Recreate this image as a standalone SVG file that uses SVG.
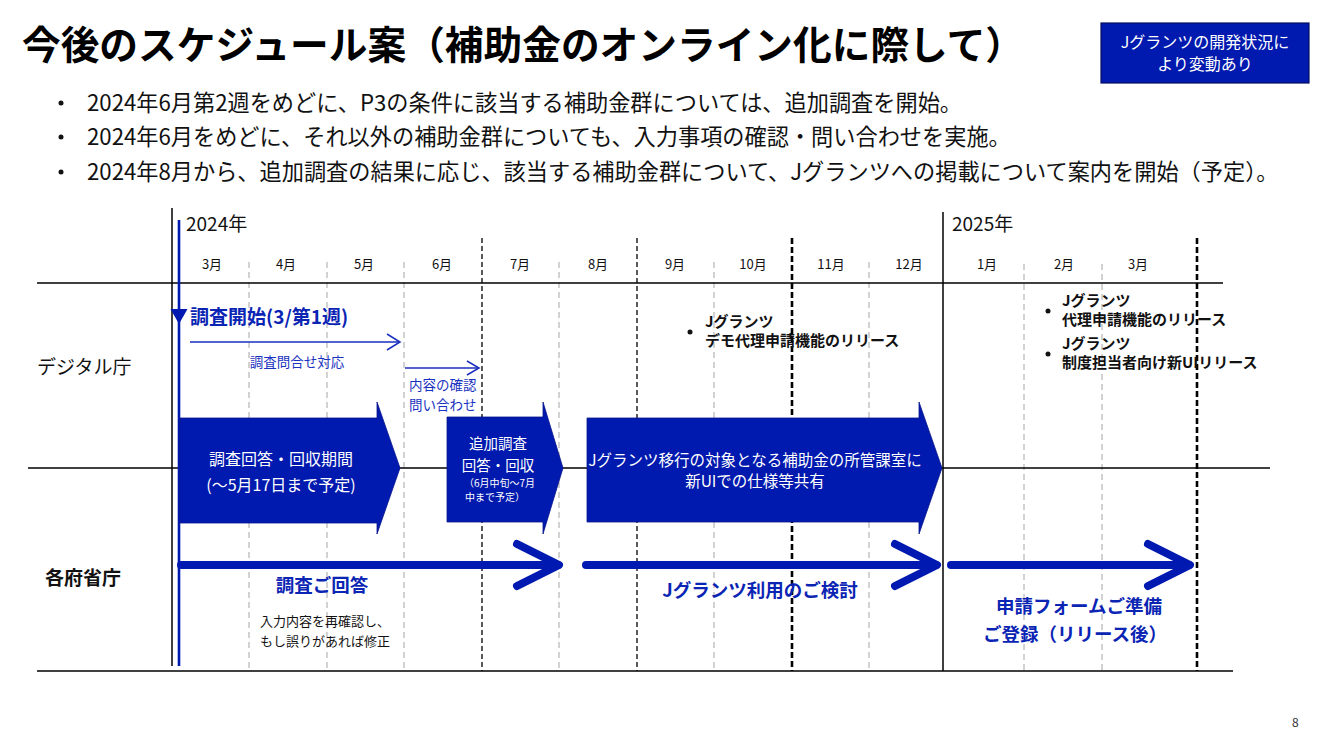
<svg xmlns="http://www.w3.org/2000/svg" width="1334" height="750" viewBox="0 0 1334 750">
<style>
text{font-family:"Noto Sans CJK JP","Noto Sans",sans-serif;}
.title{font-size:38.7px;font-weight:700;fill:#000;}
.bul{font-size:22.2px;fill:#111;}
.yr{font-size:19px;fill:#111;}
.mo{font-size:13px;fill:#111;text-anchor:middle;}
.row{font-size:19px;fill:#111;}
.wt{fill:#fff;text-anchor:middle;}
.bb{font-weight:700;fill:#0a24b4;}
.sb{font-size:13.5px;fill:#1a33bf;}
.blk{font-size:15px;font-weight:700;fill:#111;}
.gd{stroke:#c4c4c4;stroke-width:1.5;stroke-dasharray:6 4;fill:none;}
.kd{stroke:#000;stroke-width:1.3;stroke-dasharray:5 3;fill:none;}
.kt{stroke:#000;stroke-width:2.6;stroke-dasharray:6 3;fill:none;}
.ln{stroke:#000;stroke-width:1.5;fill:none;}
.blockarrow{fill:#0019ae;stroke:#07158a;stroke-width:0.8;}
.thin{stroke:#1a2fbd;stroke-width:1.5;fill:none;}
.thick{stroke:#0019b0;stroke-width:8;fill:none;stroke-linecap:round;stroke-linejoin:round;}
</style>

<g id="title">
<text class="title" x="22" y="59">今後のスケジュール案（補助金のオンライン化に際して）</text>
</g>

<g id="note-box">
<rect x="1101" y="23" width="208" height="60" fill="#0019ae" stroke="#06105e" stroke-width="1.2"/>
<text class="wt" x="1205" y="48" font-size="16">Jグランツの開発状況に</text>
<text class="wt" x="1205" y="70" font-size="16">より変動あり</text>
</g>

<g id="bullets">
<circle cx="61" cy="103" r="2.5" fill="#111"/>
<circle cx="61" cy="137" r="2.5" fill="#111"/>
<circle cx="61" cy="172" r="2.5" fill="#111"/>
<text class="bul" x="87" y="111">2024年6月第2週をめどに、P3の条件に該当する補助金群については、追加調査を開始。</text>
<text class="bul" x="87" y="145">2024年6月をめどに、それ以外の補助金群についても、入力事項の確認・問い合わせを実施。</text>
<text class="bul" x="87" y="180">2024年8月から、追加調査の結果に応じ、該当する補助金群について、Jグランツへの掲載について案内を開始（予定）。</text>
</g>

<g id="grid">
<line class="gd" x1="249" y1="262" x2="249" y2="671"/>
<line class="gd" x1="327" y1="262" x2="327" y2="671"/>
<line class="gd" x1="404" y1="262" x2="404" y2="671"/>
<line class="gd" x1="559" y1="262" x2="559" y2="671"/>
<line class="gd" x1="714" y1="262" x2="714" y2="671"/>
<line class="gd" x1="869" y1="262" x2="869" y2="671"/>
<line class="gd" x1="1024" y1="264" x2="1024" y2="671"/>
<line class="gd" x1="1102" y1="264" x2="1102" y2="671"/>
<line class="kd" x1="482" y1="238" x2="482" y2="671"/>
<line class="kd" x1="637" y1="238" x2="637" y2="671"/>
<line class="kt" x1="792" y1="238" x2="792" y2="671"/>
<line class="kt" x1="1197" y1="238" x2="1197" y2="671"/>
<line class="ln" x1="943" y1="212" x2="943" y2="671"/>
<line class="ln" x1="172" y1="208" x2="172" y2="666"/>
<line class="ln" x1="37" y1="283" x2="1223" y2="283"/>
<line class="ln" x1="28" y1="468" x2="1270" y2="468"/>
<line class="ln" x1="37" y1="671" x2="1233" y2="671"/>
</g>

<g id="timeline-labels">
<text class="yr" x="186" y="231">2024年</text>
<text class="yr" x="952" y="231">2025年</text>
<text class="mo" x="212" y="269">3月</text>
<text class="mo" x="286" y="269">4月</text>
<text class="mo" x="364" y="269">5月</text>
<text class="mo" x="442" y="269">6月</text>
<text class="mo" x="520" y="269">7月</text>
<text class="mo" x="598" y="269">8月</text>
<text class="mo" x="675" y="269">9月</text>
<text class="mo" x="753" y="269">10月</text>
<text class="mo" x="831" y="269">11月</text>
<text class="mo" x="909" y="269">12月</text>
<text class="mo" x="987" y="269">1月</text>
<text class="mo" x="1064" y="269">2月</text>
<text class="mo" x="1138" y="269">3月</text>
</g>

<g id="row-digital">
<text class="row" x="37" y="374">デジタル庁</text>
</g>
<g id="row-ministries">
<text class="row" x="45" y="585" font-weight="700" font-size="18.5">各府省庁</text>
</g>

<g id="survey-start">
<line x1="179" y1="220" x2="179" y2="666" stroke="#0019b0" stroke-width="2.6"/>
<polygon points="170.5,309 187.5,309 179,324" fill="#0019b0"/>
<text class="bb" x="190" y="324" font-size="19">調査開始(3/第1週)</text>
</g>

<g id="connectors">
<line class="thin" x1="190" y1="342" x2="400" y2="342"/>
<polyline class="thin" points="387,334 400,342 387,350"/>
<line class="thin" x1="405" y1="368" x2="479" y2="368"/>
<polyline class="thin" points="467,361 479,368 467,375"/>
<line class="thick" x1="181" y1="565" x2="558" y2="565"/>
<polyline class="thick" points="517,544 559,565 517,586"/>
<line class="thick" x1="586" y1="565" x2="936" y2="565"/>
<polyline class="thick" points="895,544 937,565 895,586"/>
<line class="thick" x1="951" y1="565" x2="1189" y2="565"/>
<polyline class="thick" points="1148,544 1190,565 1148,586"/>
</g>

<g id="label-inquiry">
<text class="sb" x="297" y="367" text-anchor="middle" font-size="13">調査問合せ対応</text>
</g>
<g id="label-confirm">
<text class="sb" x="409" y="390">内容の確認</text>
<text class="sb" x="409" y="410">問い合わせ</text>
</g>

<g id="release-demo">
<circle cx="690" cy="332" r="2.5" fill="#111"/>
<text class="blk" x="705" y="327">Jグランツ</text>
<text class="blk" x="705" y="346">デモ代理申請機能のリリース</text>
</g>
<g id="release-proxy">
<circle cx="1048" cy="311" r="2.5" fill="#111"/>
<text class="blk" x="1062" y="306">Jグランツ</text>
<text class="blk" x="1062" y="325">代理申請機能のリリース</text>
</g>
<g id="release-ui">
<circle cx="1048" cy="354" r="2.5" fill="#111"/>
<text class="blk" x="1062" y="349">Jグランツ</text>
<text class="blk" x="1062" y="368">制度担当者向け新UIリリース</text>
</g>

<g id="block-survey">
<path class="blockarrow" d="M180,418 H377 V402 L400,468 L377,534 V523 H180 Z"/>
<text class="wt" x="281" y="465" font-size="16">調査回答・回収期間</text>
<text class="wt" x="281" y="491" font-size="16">(～5月17日まで予定)</text>
</g>

<g id="block-additional">
<path class="blockarrow" d="M447,417 H543 V402 L563,468 L543,534 V522 H447 Z"/>
<text class="wt" x="498" y="449" font-size="14.5">追加調査</text>
<text class="wt" x="498" y="471" font-size="14.5">回答・回収</text>
<text x="464" y="487" font-size="10" fill="#fff">（6月中旬～7月</text>
<text x="465" y="501" font-size="10" fill="#fff">中まで予定）</text>
</g>

<g id="block-share">
<path class="blockarrow" d="M587,418 H919 V402 L942,468 L919,534 V522 H587 Z"/>
<text class="wt" x="755" y="466" font-size="15.5">Jグランツ移行の対象となる補助金の所管課室に</text>
<text class="wt" x="755" y="487" font-size="15.5">新UIでの仕様等共有</text>
</g>

<g id="ministry-answer">
<text class="bb" x="322" y="592" font-size="18.5" text-anchor="middle">調査ご回答</text>
<text x="325" y="626" font-size="13" fill="#111" text-anchor="middle">入力内容を再確認し、</text>
<text x="325" y="646" font-size="13" fill="#111" text-anchor="middle">もし誤りがあれば修正</text>
</g>
<g id="ministry-consider">
<text class="bb" x="760" y="597" font-size="18.5" text-anchor="middle">Jグランツ利用のご検討</text>
</g>
<g id="ministry-register">
<text class="bb" x="1079" y="613" font-size="18.5" text-anchor="middle">申請フォームご準備</text>
<text class="bb" x="1075" y="641" font-size="18.5" text-anchor="middle">ご登録（リリース後）</text>
</g>

<g id="page-number">
<text x="1292" y="727" font-size="12" fill="#333">8</text>
</g>
</svg>
